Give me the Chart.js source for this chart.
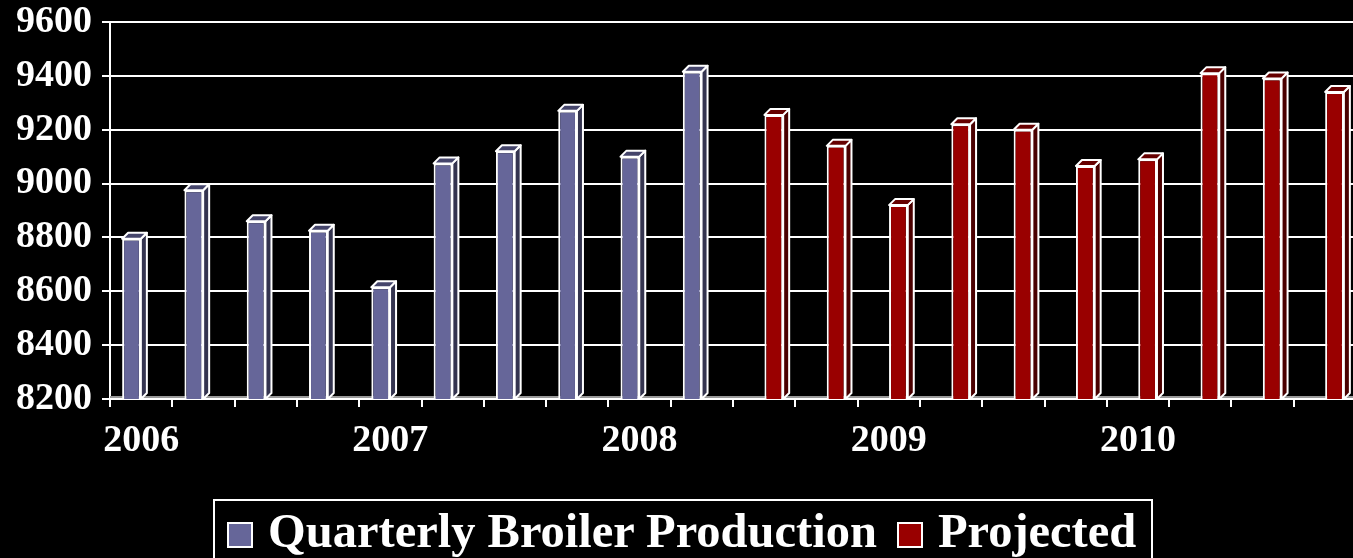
<!DOCTYPE html>
<html>
<head>
<meta charset="utf-8">
<script src="https://cdn.jsdelivr.net/npm/chart.js@4.4.1/dist/chart.umd.min.js"></script>
<style>
    html, body { margin: 0; padding: 0; background: #000; overflow: hidden; }
    #wrap { position: relative; width: 1353px; height: 558px; overflow: hidden; }
    #legend {
        position: absolute; left: 213px; top: 499px; width: 936px; height: 80px;
        border: 2px solid #fff; box-sizing: content-box;
        font-family: 'Liberation Serif', 'Times New Roman', serif;
        font-weight: bold; font-size: 48.5px; line-height: 48px; color: #fff;
        white-space: nowrap;
    }
    #legend .row { position: absolute; left: 12px; top: 6px; display: flex; align-items: flex-start; white-space: nowrap; }
    #legend .item { display: flex; align-items: flex-start; margin-right: 20px; flex: none; }
    #legend .box { width: 22px; height: 22px; border: 2px solid #fff; margin-top: 15px; margin-right: 15px; flex: none; }
</style>
</head>
<body>
<div id="wrap">
    <canvas id="chart" width="1358" height="558"></canvas>
    <div id="legend"><div class="row"></div></div>
</div>
<script>
// Quarters on the x axis
const quarters = [
    '2006 Q1', '2006 Q2', '2006 Q3', '2006 Q4',
    '2007 Q1', '2007 Q2', '2007 Q3', '2007 Q4',
    '2008 Q1', '2008 Q2', '2008 Q3', '2008 Q4',
    '2009 Q1', '2009 Q2', '2009 Q3', '2009 Q4',
    '2010 Q1', '2010 Q2', '2010 Q3', '2010 Q4'
];

// Production (million lbs)
const production = [8795, 8975, 8860, 8825, 8615, 9075, 9120, 9270, 9100, 9415];
const projected = [9255, 9140, 8920, 9220, 9200, 9065, 9090, 9410, 9390, 9340];

const yTicks = [8200, 8400, 8600, 8800, 9000, 9200, 9400, 9600];

const FONT = "'Liberation Serif', 'Times New Roman', serif";

// pad series so each one sits on its own quarters
const productionData = quarters.map((q, i) => i < production.length ? production[i] : null);
const projectedData = quarters.map((q, i) => i >= production.length ? projected[i - production.length] : null);

// Draws the side and top faces of each bar for the 3D look
const depthPlugin = {
    id: 'depth',
    beforeDatasetsDraw(chart) {
        const { ctx, chartArea } = chart;
        ctx.save();
        ctx.strokeStyle = '#9a9a9a';
        ctx.lineWidth = 2;
        ctx.beginPath();
        ctx.moveTo(chartArea.left, chartArea.bottom - 2);
        ctx.lineTo(chartArea.right, chartArea.bottom - 2);
        ctx.stroke();
        ctx.restore();
    },
    afterDatasetsDraw(chart) {
        const ctx = chart.ctx;
        const bottom = chart.chartArea.bottom;
        const dx = 6, dy = 6;
        chart.data.datasets.forEach((ds, di) => {
            const meta = chart.getDatasetMeta(di);
            meta.data.forEach((bar, i) => {
                if (ds.data[i] === null) return;
                const props = bar.getProps(['x', 'y', 'base', 'width'], true);
                const x = props.x, y = props.y, width = props.width;
                const base = Math.min(props.base, bottom);
                const l = x - width / 2, r = x + width / 2;
                ctx.save();
                ctx.lineWidth = 2;
                ctx.strokeStyle = '#ffffff';
                ctx.lineJoin = 'round';
                // side
                ctx.fillStyle = ds.sideColor;
                ctx.beginPath();
                ctx.moveTo(r, y);
                ctx.lineTo(r + dx, y - dy);
                ctx.lineTo(r + dx, base - dy);
                ctx.lineTo(r, base);
                ctx.closePath();
                ctx.fill();
                ctx.stroke();
                // top
                ctx.fillStyle = ds.topColor;
                ctx.beginPath();
                ctx.moveTo(l, y);
                ctx.lineTo(l + dx, y - dy);
                ctx.lineTo(r + dx, y - dy);
                ctx.lineTo(r, y);
                ctx.closePath();
                ctx.fill();
                ctx.stroke();
                ctx.restore();
            });
        });
    }
};

const chart = new Chart(document.getElementById('chart'), {
    type: 'bar',
    data: {
        labels: quarters,
        datasets: [{
            label: 'Quarterly Broiler Production',
            data: productionData,
            backgroundColor: '#666699',
            sideColor: '#34344f',
            topColor: '#45456b',
            borderColor: '#ffffff',
            borderWidth: 2,
            barPercentage: 0.97,
            categoryPercentage: 0.62
        }, {
            label: 'Projected',
            data: projectedData,
            backgroundColor: '#990000',
            sideColor: '#4a0000',
            topColor: '#660000',
            borderColor: '#ffffff',
            borderWidth: 2,
            barPercentage: 0.97,
            categoryPercentage: 0.62
        }]
    },
    options: {
        responsive: false,
        animation: false,
        devicePixelRatio: 1,
        layout: {
            padding: { top: 22, right: 2, left: 0, bottom: 0 }
        },
        plugins: {
            legend: { display: false },
            tooltip: { enabled: false }
        },
        scales: {
            x: {
                afterFit(scale) {
                    scale.height = 159;
                    scale.paddingLeft = 0;
                    scale.paddingRight = 0;
                },
                grid: {
                    drawOnChartArea: false,
                    color: '#ffffff',
                    lineWidth: 2,
                    tickLength: 8
                },
                border: { color: '#ffffff', width: 2 },
                ticks: {
                    autoSkip: false,
                    maxRotation: 0,
                    padding: 11,
                    color: '#ffffff',
                    font: { family: FONT, size: 38, weight: 'bold' },
                    callback(value, index) {
                        const q = quarters[index];
                        return q.endsWith('Q1') ? q.slice(0, 4) : '';
                    }
                }
            },
            y: {
                min: yTicks[0],
                max: yTicks[yTicks.length - 1],
                afterFit(scale) {
                    scale.width = 110;
                    scale.paddingTop = 0;
                    scale.paddingBottom = 0;
                },
                afterBuildTicks(scale) { scale.ticks = yTicks.map(v => ({ value: v })); },
                grid: {
                    color: '#ffffff',
                    lineWidth: 2,
                    tickLength: 8
                },
                border: { color: '#ffffff', width: 2 },
                ticks: {
                    padding: 10,
                    color: '#ffffff',
                    font: { family: FONT, size: 38, weight: 'bold' },
                    callback: v => String(v)
                }
            }
        }
    },
    plugins: [depthPlugin]
});

// Legend in a white frame below the plot
const legendRow = document.querySelector('#legend .row');
chart.data.datasets.forEach(ds => {
    const item = document.createElement('div');
    item.className = 'item';
    item.innerHTML = `<span class="box" style="background:${ds.backgroundColor}"></span><span>${ds.label}</span>`;
    legendRow.appendChild(item);
});
</script>
</body>
</html>
